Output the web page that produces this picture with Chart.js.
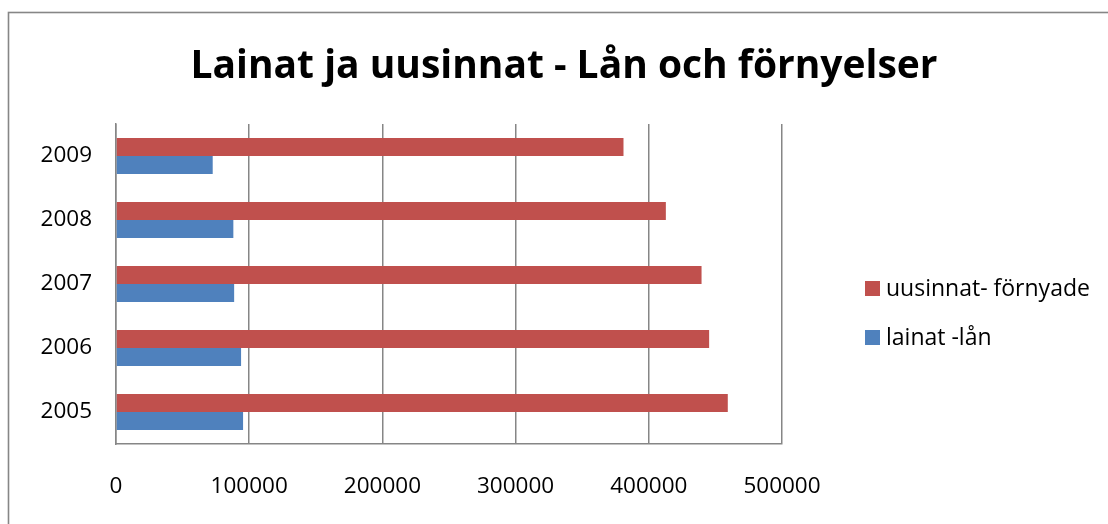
<!DOCTYPE html>
<html><head><meta charset="utf-8">
<script src="https://cdn.jsdelivr.net/npm/chart.js@4.4.1/dist/chart.umd.min.js"></script>
<style>html,body{margin:0;padding:0;background:#fff;} #wrap{position:relative;width:1108px;height:524px;} canvas{display:block;}</style>
</head><body><div id="wrap"><canvas id="c" width="1108" height="524" style="width:1108px;height:524px"></canvas></div>
<script>
const TITLE = 'Lainat ja uusinnat - Lån och förnyelser';
const YEARS = ['2005', '2006', '2007', '2008', '2009'];
const UUSINNAT = [459300, 445300, 439600, 412800, 381000];
const LAINAT = [95400, 93900, 88700, 88100, 72600];
const SERIES_NAMES = ['uusinnat- förnyade', 'lainat -lån'];
const SERIES_COLORS = ['#C0504D', '#4F81BD'];
const X_TICK_LABELS = ['0', '100000', '200000', '300000', '400000', '500000'];
const X_MIN = 0, X_MAX = 500000, X_STEP = 100000;

const FONT = '"Open Sans", "Noto Sans", sans-serif';
const GRID = '#868686';

// fit title font size to the reference title width
const mctx = document.createElement('canvas').getContext('2d');
mctx.font = 'bold 40px ' + FONT;
const TITLE_SIZE = 40 * 747 / mctx.measureText(TITLE).width;

const decor = {
  id: 'decor',
  beforeDraw(chart) {
    const c = chart.ctx;
    c.save();
    c.fillStyle = '#fff';
    c.fillRect(0, 0, chart.width, chart.height);
    c.strokeStyle = '#868686';
    c.lineWidth = 1.6;
    c.strokeRect(8.5, 12.5, 1112, 600);
    c.restore();
  },
  afterDraw(chart) {
    const c = chart.ctx;
    c.save();
    c.fillStyle = '#000';
    c.font = 'bold ' + TITLE_SIZE.toFixed(2) + 'px ' + FONT;
    c.textAlign = 'center';
    c.textBaseline = 'alphabetic';
    c.fillText(TITLE, 564, 78);
    // legend
    c.font = '23px ' + FONT;
    c.textAlign = 'left';
    c.textBaseline = 'middle';
    const ys = [288.5, 337.5];
    chart.data.datasets.forEach((ds, i) => {
      c.fillStyle = ds.backgroundColor;
      c.fillRect(865, ys[i] - 7.5, 15, 15);
      c.fillStyle = '#000';
      c.fillText(ds.label, 886, ys[i] + 1);
    });
    c.restore();
  }
};

new Chart(document.getElementById('c'), {
  type: 'bar',
  data: {
    labels: YEARS,
    datasets: [
      { label: SERIES_NAMES[0], data: UUSINNAT, backgroundColor: SERIES_COLORS[0] },
      { label: SERIES_NAMES[1], data: LAINAT, backgroundColor: SERIES_COLORS[1] }
    ]
  },
  options: {
    indexAxis: 'y',
    responsive: false,
    maintainAspectRatio: false,
    animation: false,
    devicePixelRatio: 1,
    layout: { padding: { left: 16, right: 326, top: 124, bottom: 30 } },
    datasets: { bar: { categoryPercentage: 0.5625, barPercentage: 1 } },
    plugins: { legend: { display: false }, title: { display: false }, tooltip: { enabled: false } },
    scales: {
      x: {
        type: 'linear', min: X_MIN, max: X_MAX,
        ticks: {
          stepSize: X_STEP, padding: 29, color: '#000',
          font: { family: FONT, size: 22.5 },
          callback: (v, i) => X_TICK_LABELS[i]
        },
        grid: { color: GRID, lineWidth: 1.5, drawTicks: false },
        border: { display: true, color: GRID, width: 1.5 },
        afterFit: s => { s.height = 50; }
      },
      y: {
        reverse: true,
        ticks: { padding: 24, color: '#000', font: { family: FONT, size: 22.5 } },
        grid: { display: false, drawTicks: false },
        border: { display: true, color: GRID, width: 1.5 },
        afterFit: s => { s.width = 100; }
      }
    }
  },
  plugins: [decor]
});
</script></body></html>
